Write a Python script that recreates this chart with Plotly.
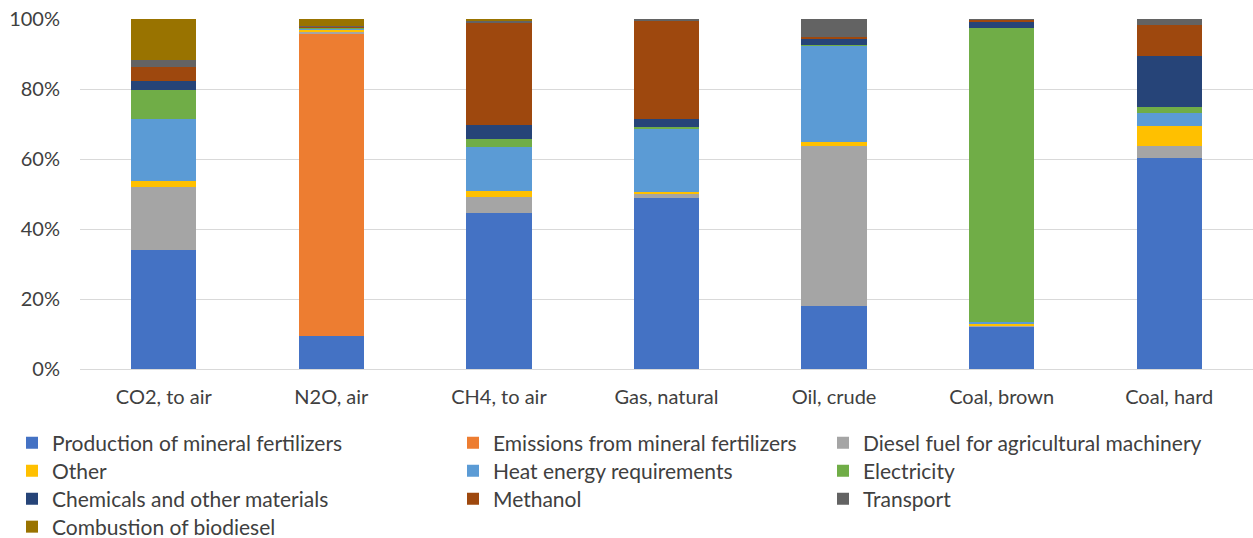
import plotly.graph_objects as go

categories = ["CO2, to air", "N2O, air", "CH4, to air", "Gas, natural",
              "Oil, crude", "Coal, brown", "Coal, hard"]

production_fertilizers = [34.0, 9.5, 44.7, 49.0, 17.9, 12.0, 60.2]
emissions_fertilizers = [0.0, 86.2, 0.0, 0.0, 0.0, 0.0, 0.0]
diesel_fuel = [18.0, 0.6, 4.5, 1.0, 45.9, 0.2, 3.5]
other = [1.8, 0.6, 1.7, 0.5, 1.1, 0.7, 5.7]
heat_energy = [17.6, 0.4, 12.6, 18.3, 27.5, 0.6, 3.7]
electricity = [8.4, 0.3, 2.1, 0.4, 0.2, 84.0, 1.8]
chemicals = [2.7, 0.1, 4.0, 2.2, 1.6, 1.7, 14.6]
methanol = [3.8, 0.1, 29.2, 28.3, 0.8, 0.6, 8.8]
transport = [2.1, 0.2, 0.7, 0.3, 5.0, 0.2, 1.7]
biodiesel = [11.7, 2.0, 0.5, 0.0, 0.0, 0.0, 0.0]

series = [
    ("Production of mineral fertilizers", production_fertilizers, "#4472C4"),
    ("Emissions from mineral fertilizers", emissions_fertilizers, "#ED7D31"),
    ("Diesel fuel for agricultural machinery", diesel_fuel, "#A5A5A5"),
    ("Other", other, "#FFC000"),
    ("Heat energy requirements", heat_energy, "#5B9BD5"),
    ("Electricity", electricity, "#70AD47"),
    ("Chemicals and other materials", chemicals, "#264478"),
    ("Methanol", methanol, "#9E480E"),
    ("Transport", transport, "#636363"),
    ("Combustion of biodiesel", biodiesel, "#997300"),
]

W, H = 1253, 538
font_family = "Lato, 'Open Sans', sans-serif"
text_color = "#404040"

# legend grid: three columns, rows filled left to right
legend_cols_px = [12, 453, 823]
legend_rows_px = [443, 471, 499, 527]

fig = go.Figure()
legend_layout = {}
for i, (name, vals, color) in enumerate(series):
    key = "legend" if i == 0 else f"legend{i + 1}"
    fig.add_trace(go.Bar(
        x=categories, y=vals, name=name, legend=key, showlegend=True,
        marker=dict(color=color, line=dict(width=0)),
    ))
    row, col = divmod(i, 3)
    legend_layout[key] = dict(
        orientation="v", xref="container", yref="container",
        xanchor="left", yanchor="middle",
        x=legend_cols_px[col] / W, y=1 - legend_rows_px[row] / H,
        font=dict(family=font_family, size=21, color=text_color),
        bgcolor="rgba(0,0,0,0)", itemwidth=30,
    )

fig.update_layout(
    width=W, height=H,
    showlegend=True,
    barmode="stack", barnorm="percent",
    bargap=0.61,
    plot_bgcolor="white", paper_bgcolor="white",
    margin=dict(l=80, r=0, t=19, b=169, autoexpand=False),
    font=dict(family=font_family, size=20, color=text_color),
    xaxis=dict(showgrid=False, showline=False, ticks="", tickfont=dict(size=20),
               tickangle=0, range=[-0.5, 6.5], automargin=False,
               ticklabelstandoff=14),
    yaxis=dict(range=[0, 100], tickvals=[0, 20, 40, 60, 80, 100],
               ticktext=["0%", "20%", "40%", "60%", "80%", "100%"],
               showgrid=True, gridcolor="#D9D9D9", gridwidth=1,
               zeroline=True, zerolinecolor="#D9D9D9", zerolinewidth=1,
               ticklabelstandoff=19, tickfont=dict(size=20), automargin=False),
    **legend_layout,
)

fig.write_html("out.html")
